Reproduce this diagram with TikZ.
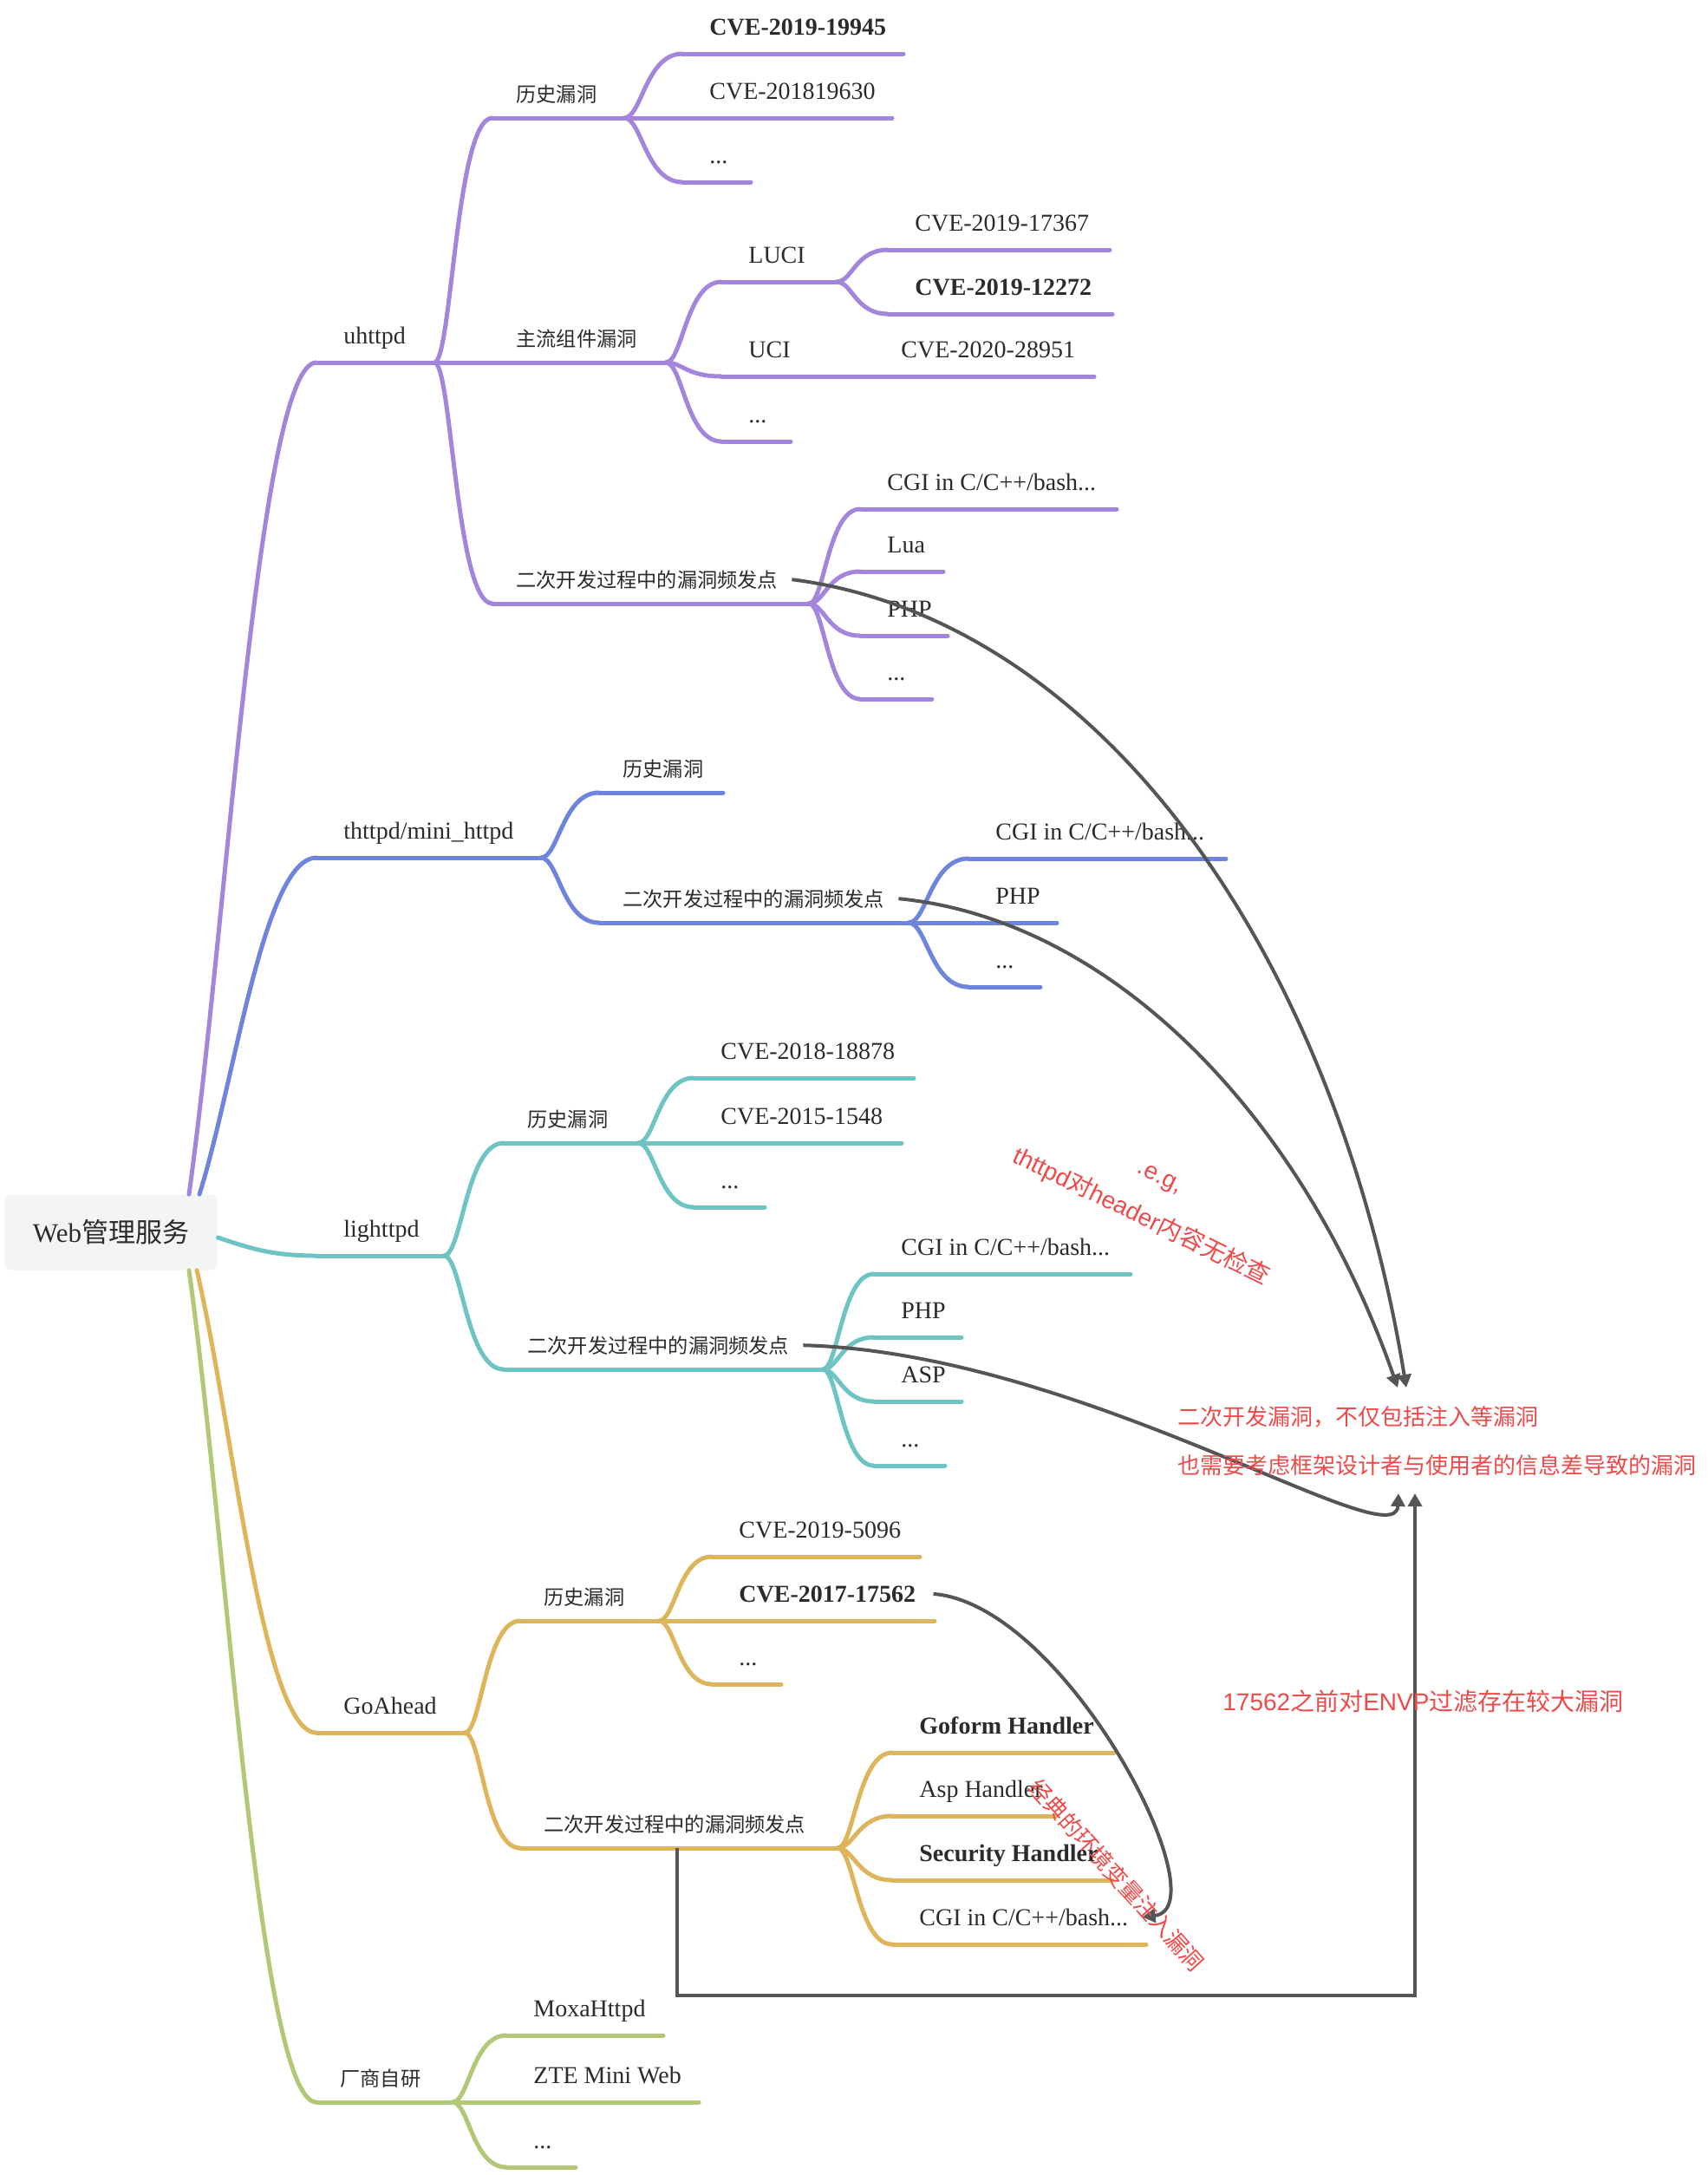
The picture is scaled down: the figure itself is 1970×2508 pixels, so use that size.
\documentclass[tikz,border=0pt]{standalone}
\usepackage{fontspec}
\setmainfont{Liberation Serif}
\newfontfamily\cjkf{Noto Sans CJK SC}
\newfontfamily\rsans{Liberation Sans}
\usetikzlibrary{calc,arrows.meta}
\newcommand\zh[1]{{\cjkf #1}}
\definecolor{cpur}{HTML}{A386DC}
\definecolor{cblu}{HTML}{6F84DC}
\definecolor{ctea}{HTML}{6EC3C3}
\definecolor{cgol}{HTML}{DDB55B}
\definecolor{cgrn}{HTML}{B2C877}
\definecolor{cred}{HTML}{EF4A4A}
\definecolor{cgry}{HTML}{555555}
\definecolor{txt}{HTML}{2B2B2B}
\definecolor{rootfill}{HTML}{F4F4F5}
\tikzset{
  branch/.style={line width=2.5pt, line cap=round},
  lab/.style={anchor=base west, inner sep=0pt, xshift=15.5pt, text=txt},
  en/.style={lab, yshift=11pt, font=\fontsize{14}{16}\selectfont},
  enb/.style={lab, yshift=11pt, font=\fontsize{14}{16}\selectfont\bfseries},
  zh/.style={anchor=base west, inner sep=0pt, xshift=13.5pt, text=txt, yshift=9.5pt, font=\cjkf\fontsize{11.6}{14}\selectfont},
  rootbox/.style={fill=rootfill, rounded corners=4pt, minimum width=123pt, minimum height=43.5pt, inner sep=0pt, text=txt, font=\fontsize{15.5}{18}\selectfont},
  conn/.style={draw=cgry, line width=2pt, -{Triangle[length=7.5pt,width=8pt]}},
  note/.style={text=cred, inner sep=0pt, font=\rsans\fontsize{13}{25}\selectfont},
  bignote/.style={note, font=\rsans\fontsize{14}{26}\selectfont},
}
\newcommand\mmitem[7]{%
  \coordinate (#1-s) at (#2,#4);
  \coordinate (#1-e) at (#3,#4);
  \draw[branch,draw=#5] (#1-s) -- (#1-e);
  \node[#6] (#1) at (#1-s) {#7};
}
\newcommand\mmlink[3]{%
  \draw[branch,draw=#1] let \p1=(#2-e), \p2=(#3-s) in
    (\p1) .. controls ({\x1+0.3*(\x2-\x1)},\y1) and ({\x1+0.37*(\x2-\x1)},\y2) .. (\p2);
}
\newcommand\mmroot[3]{%
  \draw[branch,draw=#1] let \p1=(#2), \p2=(#3-s) in
    (\p1) .. controls ({\x1+0.3*(\x2-\x1)},{\y1+0.33*(\y2-\y1)}) and ({\x1+0.55*(\x2-\x1)},\y2) .. (\p2);
}
\begin{document}
\begin{tikzpicture}[x=0.5pt,y=-0.5pt]
\useasboundingbox[fill=white] (0,0) rectangle (1970,2508);

% root
\node[rootbox] (root) at (128,1421) {Web\zh{管理服务}};
\coordinate (rp) at ($(root.north)+(90,0)$);
\coordinate (rb) at ($(root.north)+(102,0)$);
\coordinate (rt) at ($(root.east)+(0,6)$);
\coordinate (rg) at ($(root.south)+(99,0)$);
\coordinate (rv) at ($(root.south)+(90,0)$);

% uhttpd
\mmitem{u}{365}{501}{418}{cpur}{en}{uhttpd}
\mmitem{u1}{568}{720}{136}{cpur}{zh}{历史漏洞}
\mmitem{u11}{787}{1042}{62}{cpur}{enb}{CVE-2019-19945}
\mmitem{u12}{787}{1029}{136}{cpur}{en}{CVE-201819630}
\mmitem{u13}{787}{866}{210}{cpur}{en}{...}
\mmitem{u2}{568}{768}{418}{cpur}{zh}{主流组件漏洞}
\mmitem{u21}{832}{965}{325}{cpur}{en}{LUCI}
\mmitem{u211}{1024}{1280}{288}{cpur}{en}{CVE-2019-17367}
\mmitem{u212}{1024}{1283}{362}{cpur}{enb}{CVE-2019-12272}
\mmitem{u22}{832}{944}{434}{cpur}{en}{UCI}
\mmitem{u221}{1008}{1262}{434}{cpur}{en}{CVE-2020-28951}
\mmitem{u23}{832}{912}{509}{cpur}{en}{...}
\mmitem{u3}{568}{933}{696}{cpur}{zh}{二次开发过程中的漏洞频发点}
\mmitem{u31}{992}{1288}{587}{cpur}{en}{CGI in C/C++/bash...}
\mmitem{u32}{992}{1088}{659}{cpur}{en}{Lua}
\mmitem{u33}{992}{1093}{733}{cpur}{en}{PHP}
\mmitem{u34}{992}{1075}{806}{cpur}{en}{...}
\mmroot{cpur}{rp}{u}
\mmlink{cpur}{u}{u1}\mmlink{cpur}{u}{u2}\mmlink{cpur}{u}{u3}
\mmlink{cpur}{u1}{u11}\mmlink{cpur}{u1}{u12}\mmlink{cpur}{u1}{u13}
\mmlink{cpur}{u2}{u21}\mmlink{cpur}{u2}{u22}\mmlink{cpur}{u2}{u23}
\mmlink{cpur}{u21}{u211}\mmlink{cpur}{u21}{u212}\mmlink{cpur}{u22}{u221}
\mmlink{cpur}{u3}{u31}\mmlink{cpur}{u3}{u32}\mmlink{cpur}{u3}{u33}\mmlink{cpur}{u3}{u34}

% thttpd
\mmitem{t}{365}{624}{989}{cblu}{en}{thttpd/mini\_httpd}
\mmitem{t1}{691}{834}{914}{cblu}{zh}{历史漏洞}
\mmitem{t2}{691}{1048}{1064}{cblu}{zh}{二次开发过程中的漏洞频发点}
\mmitem{t21}{1117}{1414}{990}{cblu}{en}{CGI in C/C++/bash...}
\mmitem{t22}{1117}{1219}{1064}{cblu}{en}{PHP}
\mmitem{t23}{1117}{1200}{1138}{cblu}{en}{...}
\mmroot{cblu}{rb}{t}
\mmlink{cblu}{t}{t1}\mmlink{cblu}{t}{t2}
\mmlink{cblu}{t2}{t21}\mmlink{cblu}{t2}{t22}\mmlink{cblu}{t2}{t23}

% lighttpd
\mmitem{l}{365}{512}{1448}{ctea}{en}{lighttpd}
\mmitem{l1}{581}{736}{1318}{ctea}{zh}{历史漏洞}
\mmitem{l11}{800}{1054}{1243}{ctea}{en}{CVE-2018-18878}
\mmitem{l12}{800}{1040}{1318}{ctea}{en}{CVE-2015-1548}
\mmitem{l13}{800}{882}{1392}{ctea}{en}{...}
\mmitem{l2}{581}{949}{1579}{ctea}{zh}{二次开发过程中的漏洞频发点}
\mmitem{l21}{1008}{1304}{1469}{ctea}{en}{CGI in C/C++/bash...}
\mmitem{l22}{1008}{1109}{1542}{ctea}{en}{PHP}
\mmitem{l23}{1008}{1109}{1616}{ctea}{en}{ASP}
\mmitem{l24}{1008}{1090}{1690}{ctea}{en}{...}
\draw[branch,draw=ctea] (rt) .. controls (290,1440) and (315,1448) .. (l-s);
\mmlink{ctea}{l}{l1}\mmlink{ctea}{l}{l2}
\mmlink{ctea}{l1}{l11}\mmlink{ctea}{l1}{l12}\mmlink{ctea}{l1}{l13}
\mmlink{ctea}{l2}{l21}\mmlink{ctea}{l2}{l22}\mmlink{ctea}{l2}{l23}\mmlink{ctea}{l2}{l24}

% GoAhead
\mmitem{g}{365}{536}{1998}{cgol}{en}{GoAhead}
\mmitem{g1}{600}{760}{1869}{cgol}{zh}{历史漏洞}
\mmitem{g11}{821}{1061}{1795}{cgol}{en}{CVE-2019-5096}
\mmitem{g12}{821}{1078}{1869}{cgol}{enb}{CVE-2017-17562}
\mmitem{g13}{821}{901}{1942}{cgol}{en}{...}
\mmitem{g2}{600}{966}{2131}{cgol}{zh}{二次开发过程中的漏洞频发点}
\mmitem{g21}{1029}{1285}{2021}{cgol}{enb}{Goform Handler}
\mmitem{g22}{1029}{1218}{2094}{cgol}{en}{Asp Handler}
\mmitem{g23}{1029}{1283}{2168}{cgol}{enb}{Security Handler}
\mmitem{g24}{1029}{1322}{2242}{cgol}{en}{CGI in C/C++/bash...}
\mmroot{cgol}{rg}{g}
\mmlink{cgol}{g}{g1}\mmlink{cgol}{g}{g2}
\mmlink{cgol}{g1}{g11}\mmlink{cgol}{g1}{g12}\mmlink{cgol}{g1}{g13}
\mmlink{cgol}{g2}{g21}\mmlink{cgol}{g2}{g22}\mmlink{cgol}{g2}{g23}\mmlink{cgol}{g2}{g24}

% vendor
\mmitem{v}{365}{522}{2424}{cgrn}{zh}{厂商自研}
\mmitem{v1}{584}{765}{2347}{cgrn}{en}{MoxaHttpd}
\mmitem{v2}{584}{806}{2424}{cgrn}{en}{ZTE Mini Web}
\mmitem{v3}{584}{664}{2499}{cgrn}{en}{...}
\mmroot{cgrn}{rv}{v}
\mmlink{cgrn}{v}{v1}\mmlink{cgrn}{v}{v2}\mmlink{cgrn}{v}{v3}

% gray connectors
\coordinate (tA) at (1622,1600);
\coordinate (tB) at (1612,1600);
\coordinate (tC) at (1613,1722);
\coordinate (tD) at (1632,1722);
\coordinate (gd) at (781,2131);
\coordinate (gc) at (1632,2301);
\draw[conn] ($(u3.east)+(16,0)$) .. controls (1270,714) and (1540,1100) .. (tA);
\draw[conn] ($(t2.east)+(16,0)$) .. controls (1290,1061) and (1507,1298) .. (tB);
\draw[conn] ($(l2.east)+(16,0)$) .. controls (1250,1560) and (1610,1800) .. (tC);
\draw[conn] (gd) |- (gc) -- (tD);
\draw[conn] ($(g12.east)+(20,0)$) .. controls (1230,1850) and (1410,2200) .. ($(g24.east)+(16,0)$);

% red notes
\node[bignote, rotate=-26, align=center] (n1) at (1326,1383) {.e.g,\\thttpd\zh{对}header\zh{内容无检查}};
\node[note, anchor=west] (n2) at (1358,1634) {\zh{二次开发漏洞，不仅包括注入等漏洞}};
\node[note, anchor=west] (n3) at (1358,1690) {\zh{也需要考虑框架设计者与使用者的信息差导致的漏洞}};
\node[bignote, anchor=west] (n4) at (1410,1962) {17562\zh{之前对}ENVP\zh{过滤存在较大漏洞}};
\node[note, rotate=-48] (n5) at (1288,2162) {\zh{经典的环境变量注入漏洞}};
\end{tikzpicture}
\end{document}
